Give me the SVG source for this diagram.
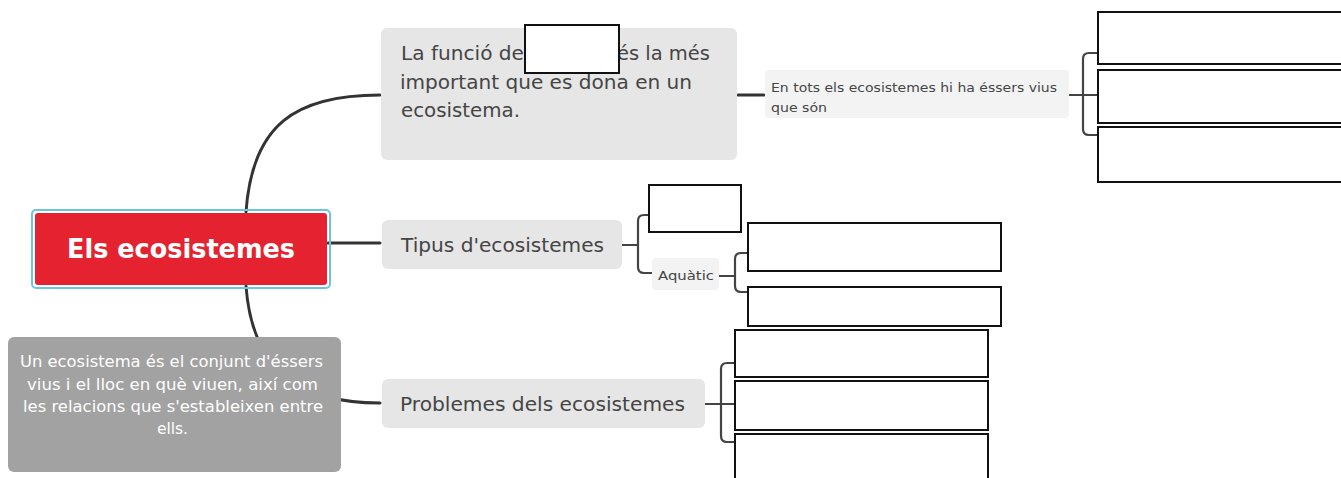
<svg xmlns="http://www.w3.org/2000/svg" width="1341" height="478" viewBox="0 0 1341 478">
<style>
.conn{fill:none;stroke:#333;stroke-width:3;stroke-linecap:round}
.br{fill:none;stroke:#444;stroke-width:2.2}
.topic{fill:#e6e6e6}
.sub{fill:#f3f3f3}
.blank{fill:#fff;stroke:#111;stroke-width:2}
.t{font-family:"DejaVu Sans","Open Sans",sans-serif;fill:#454545}
</style>
<rect width="1341" height="478" fill="#fff"/>
<g id="connectors">
<path class="conn" d="M246,212 C252,125 295,95 380,95"/>
<path class="conn" d="M246,286 C252,370 300,403 380,403"/>
<path class="conn" d="M328,243 L380,243"/>
<path class="conn" d="M738,95 L764,95" stroke-width="2.5"/>
<path class="br" d="M1069,95 L1098,95 M1098,53 L1089,53 Q1083,53 1083,59 L1083,129 Q1083,135 1089,135 L1098,135"/>
<path class="br" d="M622,245 L638,245 M649,215 L644,215 Q638,215 638,221 L638,267 Q638,273 644,273 L652,273"/>
<path class="br" d="M719,276 L735,276 M748,253 L741,253 Q735,253 735,259 L735,286 Q735,292 741,292 L748,292"/>
<path class="br" d="M705,404 L735,404 M735,363 L727,363 Q721,363 721,369 L721,436 Q721,442 727,442 L735,442"/>
</g>
<g id="node-main">
<rect x="32" y="210" width="298" height="78" rx="4" fill="none" stroke="#6cc5e0" stroke-width="2"/>
<rect x="35" y="213" width="292" height="72" rx="3" fill="#e5222f"/>
<text x="67" y="258" class="t" style="fill:#fff" font-size="27" font-weight="bold" textLength="228" lengthAdjust="spacingAndGlyphs">Els ecosistemes</text>
</g>
<g id="node-def">
<rect x="8" y="337" width="333" height="135" rx="6" fill="#a2a2a2"/>
<g class="t" style="fill:#fff" font-size="15">
<text x="20" y="367" textLength="303" lengthAdjust="spacingAndGlyphs">Un ecosistema és el conjunt d'éssers</text>
<text x="27" y="390" textLength="291" lengthAdjust="spacingAndGlyphs">vius i el lloc en què viuen, així com</text>
<text x="23" y="412" textLength="300" lengthAdjust="spacingAndGlyphs">les relacions que s'estableixen entre</text>
<text x="157" y="434" textLength="31" lengthAdjust="spacingAndGlyphs">ells.</text>
</g>
</g>
<g id="node-funcio">
<rect class="topic" x="381" y="28" width="356" height="132" rx="6"/>
<g class="t" font-size="20">
<text x="401" y="60" textLength="123" lengthAdjust="spacingAndGlyphs">La funció de</text>
<text x="617" y="60" textLength="93" lengthAdjust="spacingAndGlyphs">és la més</text>
<text x="400" y="89" textLength="292" lengthAdjust="spacingAndGlyphs">important que es dona en un</text>
<text x="401" y="117" textLength="119" lengthAdjust="spacingAndGlyphs">ecosistema.</text>
</g>
<rect class="blank" x="525" y="25" width="94" height="48"/>
</g>
<g id="node-essers">
<rect class="sub" x="765" y="70" width="304" height="48" rx="4"/>
<g class="t" font-size="12.5">
<text x="771" y="92" textLength="286" lengthAdjust="spacingAndGlyphs">En tots els ecosistemes hi ha éssers vius</text>
<text x="771" y="112" textLength="56" lengthAdjust="spacingAndGlyphs">que són</text>
</g>
</g>
<g id="blanks-essers">
<rect class="blank" x="1098" y="12" width="250" height="52"/>
<rect class="blank" x="1098" y="70" width="250" height="53"/>
<rect class="blank" x="1098" y="127" width="250" height="55"/>
</g>
<g id="node-tipus">
<rect class="topic" x="382" y="220" width="240" height="49" rx="6"/>
<text class="t" x="401" y="252" font-size="19.5" textLength="203" lengthAdjust="spacingAndGlyphs">Tipus d'ecosistemes</text>
</g>
<g id="blank-terrestre">
<rect class="blank" x="649" y="185" width="92" height="47"/>
</g>
<g id="node-aquatic">
<rect class="sub" x="652" y="258" width="67" height="32" rx="4"/>
<text class="t" x="658" y="280" font-size="12" textLength="56" lengthAdjust="spacingAndGlyphs">Aquàtic</text>
</g>
<g id="blanks-aquatic">
<rect class="blank" x="748" y="223" width="253" height="48"/>
<rect class="blank" x="748" y="287" width="253" height="39"/>
</g>
<g id="node-problemes">
<rect class="topic" x="382" y="379" width="323" height="49" rx="6"/>
<text class="t" x="400" y="411" font-size="19.5" textLength="285" lengthAdjust="spacingAndGlyphs">Problemes dels ecosistemes</text>
</g>
<g id="blanks-problemes">
<rect class="blank" x="735" y="330" width="253" height="47"/>
<rect class="blank" x="735" y="381" width="253" height="49"/>
<rect class="blank" x="735" y="434" width="253" height="50"/>
</g>
</svg>
